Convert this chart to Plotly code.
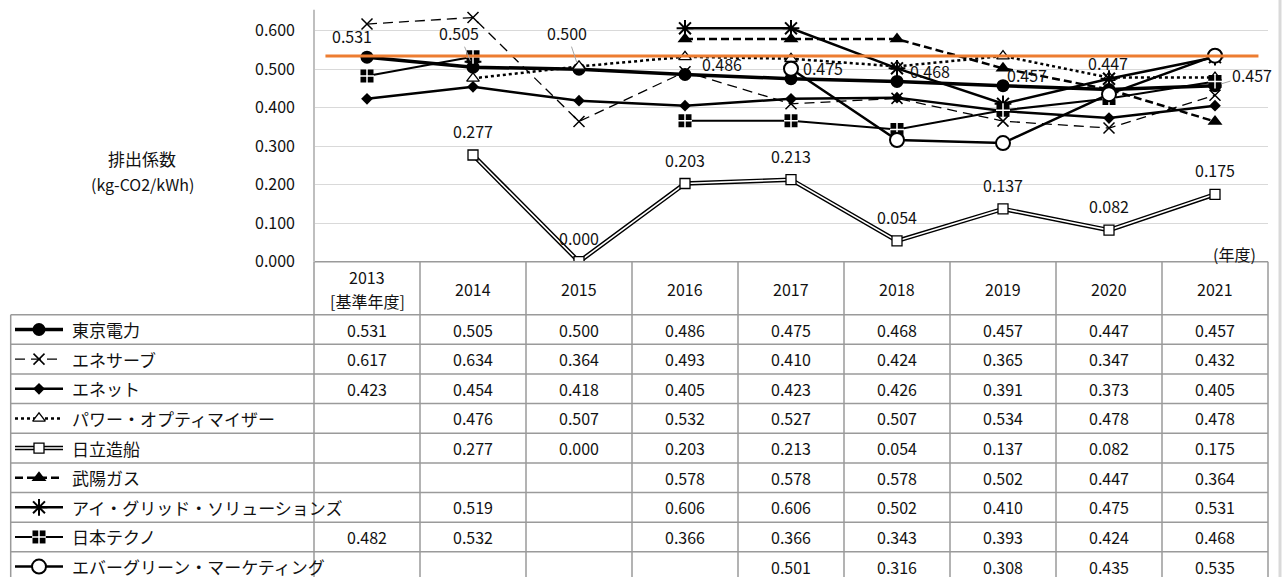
import plotly.graph_objects as go

# ---------------- data ----------------
years = ["2013", "2014", "2015", "2016", "2017", "2018", "2019", "2020", "2021"]
year_notes = ["[基準年度]", "", "", "", "", "", "", "", ""]

names = ["東京電力", "エネサーブ", "エネット", "パワー・オプティマイザー", "日立造船",
         "武陽ガス", "アイ・グリッド・ソリューションズ", "日本テクノ", "エバーグリーン・マーケティング"]

tokyo = [0.531, 0.505, 0.500, 0.486, 0.475, 0.468, 0.457, 0.447, 0.457]
enesave = [0.617, 0.634, 0.364, 0.493, 0.410, 0.424, 0.365, 0.347, 0.432]
ennet = [0.423, 0.454, 0.418, 0.405, 0.423, 0.426, 0.391, 0.373, 0.405]
power_opt = [None, 0.476, 0.507, 0.532, 0.527, 0.507, 0.534, 0.478, 0.478]
hitachi = [None, 0.277, 0.000, 0.203, 0.213, 0.054, 0.137, 0.082, 0.175]
buyo = [None, None, None, 0.578, 0.578, 0.578, 0.502, 0.447, 0.364]
igrid = [None, 0.519, None, 0.606, 0.606, 0.502, 0.410, 0.475, 0.531]
nihon_techno = [0.482, 0.532, None, 0.366, 0.366, 0.343, 0.393, 0.424, 0.468]
evergreen = [None, None, None, None, 0.501, 0.316, 0.308, 0.435, 0.535]

reference_value = 0.534

y_ticks = [0.0, 0.1, 0.2, 0.3, 0.4, 0.5, 0.6]
y_title = ["排出係数", "(kg-CO2/kWh)"]
x_unit = "(年度)"

# ---------------- geometry (pixels) ----------------
W, H = 1284, 588
PL, PR, PT, PB = 314, 1268, 10, 266.7
COLW = (PR - PL) / len(years)
HDR_B = 320.7
ROWH = 30.2
LEG_L = 10.7
FONT = "Noto Sans CJK JP"
FS = 16
FS_NAME = 17
TXT = "#111111"
GRID = "#d9d9d9"
TBL = "#9a9a9a"

series = [tokyo, enesave, ennet, power_opt, hitachi, buyo, igrid, nihon_techno, evergreen]

styles = [
    dict(line=dict(color="black", width=3.5), marker=dict(symbol="circle", size=13, color="black")),
    dict(line=dict(color="black", width=1.3, dash="10px,6px"),
         marker=dict(symbol="x-thin-open", size=11, color="black", line=dict(color="black", width=1.5))),
    dict(line=dict(color="black", width=2.5), marker=dict(symbol="diamond", size=9, color="black")),
    dict(line=dict(color="black", width=2.5, dash="dot"),
         marker=dict(symbol="triangle-up", size=11, color="white", line=dict(color="black", width=1.3))),
    None,  # hitachi: double line handled separately
    dict(line=dict(color="black", width=2.5, dash="8px,4px"),
         marker=dict(symbol="triangle-up", size=13, color="black")),
    dict(line=dict(color="black", width=2.5),
         marker=dict(symbol="asterisk-open", size=14, color="black", line=dict(color="black", width=2))),
    dict(line=dict(color="black", width=2), marker=dict(symbol="square", size=13, color="black")),
    dict(line=dict(color="black", width=2.5),
         marker=dict(symbol="circle", size=14, color="white", line=dict(color="black", width=2))),
]

fig = go.Figure()
xs = list(range(len(years)))


def add_series(i, x, y, xa="x", ya="y", sample=False):
    if i == 4:
        fig.add_trace(go.Scatter(x=x, y=y, mode="lines", xaxis=xa, yaxis=ya,
                                 line=dict(color="black", width=4.5), connectgaps=False,
                                 showlegend=False, hoverinfo="skip"))
        fig.add_trace(go.Scatter(x=x, y=y, mode="lines", xaxis=xa, yaxis=ya,
                                 line=dict(color="white", width=1.6), connectgaps=False,
                                 showlegend=False, hoverinfo="skip"))
        mx = x if not sample else [sum(x) / 2]
        my = y if not sample else [y[0]]
        fig.add_trace(go.Scatter(x=mx, y=my, mode="markers", xaxis=xa, yaxis=ya,
                                 marker=dict(symbol="square", size=10, color="white",
                                             line=dict(color="black", width=1.3)),
                                 showlegend=False, hoverinfo="skip"))
        return
    st = styles[i]
    if sample:
        fig.add_trace(go.Scatter(x=x, y=y, mode="lines", xaxis=xa, yaxis=ya, line=st["line"],
                                 showlegend=False, hoverinfo="skip"))
        fig.add_trace(go.Scatter(x=[sum(x) / 2], y=[y[0]], mode="markers", xaxis=xa, yaxis=ya,
                                 marker=st["marker"], showlegend=False, hoverinfo="skip"))
        mx, my = [sum(x) / 2], [y[0]]
    else:
        fig.add_trace(go.Scatter(x=x, y=y, mode="lines+markers", xaxis=xa, yaxis=ya,
                                 line=st["line"], marker=st["marker"], connectgaps=False,
                                 showlegend=False, hoverinfo="skip", name=names[i]))
        mx, my = x, y
    if i == 7:
        fig.add_trace(go.Scatter(x=mx, y=my, mode="markers", xaxis=xa, yaxis=ya,
                                 marker=dict(symbol="cross-thin-open", size=10, color="white",
                                             line=dict(color="white", width=1.5)),
                                 showlegend=False, hoverinfo="skip"))


for i, s in enumerate(series):
    add_series(i, xs, s)

# legend samples in table (pixel overlay axes)
for i in range(len(names)):
    yc = HDR_B + ROWH * (i + 0.5)
    add_series(i, [15, 63], [yc, yc], xa="x2", ya="y2", sample=True)

ann = []
# Tokyo labels (offsets in px: dx, dy, leader)
tokyo_off = [(-15, -21, False), (-14, -34, True), (-12, -36, True), (37, -11, False), (32, -11, False),
             (33, -10, False), (24, -11, False), (-1, -27, False), (37, -11, True)]
for i, v in enumerate(tokyo):
    dx, dy, lead = tokyo_off[i]
    if lead:
        ann.append(dict(x=i, y=v, xref="x", yref="y", text=f"{v:.3f}", showarrow=True, ax=dx, ay=dy,
                        arrowhead=0, arrowwidth=1, arrowcolor="#a6a6a6", standoff=7,
                        font=dict(family=FONT, size=FS, color=TXT)))
    else:
        ann.append(dict(x=i, y=v, xref="x", yref="y", text=f"{v:.3f}", showarrow=False,
                        xshift=dx, yshift=-dy, font=dict(family=FONT, size=FS, color=TXT)))
for i, v in enumerate(hitachi):
    if v is None:
        continue
    ann.append(dict(x=i, y=v, xref="x", yref="y", text=f"{v:.3f}", showarrow=False, yshift=24,
                    font=dict(family=FONT, size=FS, color=TXT)))

# y axis title and unit
ann.append(dict(x=142, y=162, xref="x2", yref="y2", text=y_title[0], showarrow=False,
                font=dict(family=FONT, size=FS_NAME, color=TXT)))
ann.append(dict(x=142, y=187, xref="x2", yref="y2", text=y_title[1], showarrow=False,
                font=dict(family=FONT, size=FS, color=TXT)))
ann.append(dict(x=1234, y=259, xref="x2", yref="y2", text=x_unit, showarrow=False,
                font=dict(family=FONT, size=FS, color=TXT)))

# table header
for j, yr in enumerate(years):
    xc = PL + COLW * (j + 0.5)
    if year_notes[j]:
        ann.append(dict(x=xc, y=282, xref="x2", yref="y2", text=yr, showarrow=False,
                        font=dict(family=FONT, size=FS, color=TXT)))
        ann.append(dict(x=xc, y=307, xref="x2", yref="y2", text=year_notes[j], showarrow=False,
                        font=dict(family=FONT, size=FS, color=TXT)))
    else:
        ann.append(dict(x=xc, y=294, xref="x2", yref="y2", text=yr, showarrow=False,
                        font=dict(family=FONT, size=FS, color=TXT)))

# table body
for i, s in enumerate(series):
    yc = HDR_B + ROWH * (i + 0.5)
    ann.append(dict(x=70, y=yc, xref="x2", yref="y2", text=names[i], showarrow=False, xanchor="left",
                    font=dict(family=FONT, size=FS_NAME, color=TXT)))
    for j, v in enumerate(s):
        if v is None:
            continue
        ann.append(dict(x=PL + COLW * (j + 0.5), y=yc, xref="x2", yref="y2", text=f"{v:.3f}",
                        showarrow=False, font=dict(family=FONT, size=FS, color=TXT)))

shapes = []
# table lines
shapes.append(dict(type="line", xref="x2", yref="y2", x0=PL, x1=PR, y0=PB, y1=PB,
                   line=dict(color=TBL, width=1.5)))
for k in range(len(names) + 1):
    yy = HDR_B + ROWH * k
    shapes.append(dict(type="line", xref="x2", yref="y2", x0=LEG_L, x1=PR, y0=yy, y1=yy,
                       line=dict(color=TBL, width=1.5)))
for j in range(len(years) + 1):
    xx = PL + COLW * j
    shapes.append(dict(type="line", xref="x2", yref="y2", x0=xx, x1=xx, y0=PB, y1=H + 5,
                       line=dict(color=TBL, width=1.5)))
shapes.append(dict(type="line", xref="x2", yref="y2", x0=LEG_L, x1=LEG_L, y0=HDR_B, y1=H + 5,
                   line=dict(color=TBL, width=1.5)))
# y axis line
shapes.append(dict(type="line", xref="x2", yref="y2", x0=PL, x1=PL, y0=PT, y1=PB,
                   line=dict(color="#bfbfbf", width=2)))
# outer right border
shapes.append(dict(type="line", xref="x2", yref="y2", x0=1280, x1=1280, y0=0, y1=H,
                   line=dict(color="#d9d9d9", width=3)))
# reference line (orange)
shapes.append(dict(type="line", xref="x domain", yref="y", x0=0.012, x1=0.99,
                   y0=reference_value, y1=reference_value, layer="above",
                   line=dict(color="#ED7D31", width=3)))

fig.update_layout(
    width=W, height=H,
    margin=dict(l=0, r=0, t=0, b=0),
    paper_bgcolor="white", plot_bgcolor="rgba(0,0,0,0)",
    showlegend=False,
    font=dict(family=FONT, size=FS, color=TXT),
    xaxis=dict(domain=[PL / W, PR / W], range=[-0.5, len(years) - 0.5], showticklabels=False,
               showgrid=False, zeroline=False, showline=False, ticks="", fixedrange=True),
    yaxis=dict(domain=[1 - PB / H, 1 - PT / H], range=[0, 0.654], tickvals=y_ticks, tickformat=".3f",
               showgrid=True, gridcolor=GRID, gridwidth=1.3, zeroline=False, showline=False,
               ticks="", ticklabelstandoff=18, tickfont=dict(family=FONT, size=FS, color=TXT),
               fixedrange=True),
    xaxis2=dict(domain=[0, 1], range=[0, W], visible=False, anchor="y2", fixedrange=True),
    yaxis2=dict(domain=[0, 1], range=[H, 0], visible=False, anchor="x2", fixedrange=True),
    annotations=ann,
    shapes=shapes,
)

fig.write_html("out.html", config={"displayModeBar": False},
               post_script="document.body.style.margin='0';document.body.style.overflow='hidden';")
